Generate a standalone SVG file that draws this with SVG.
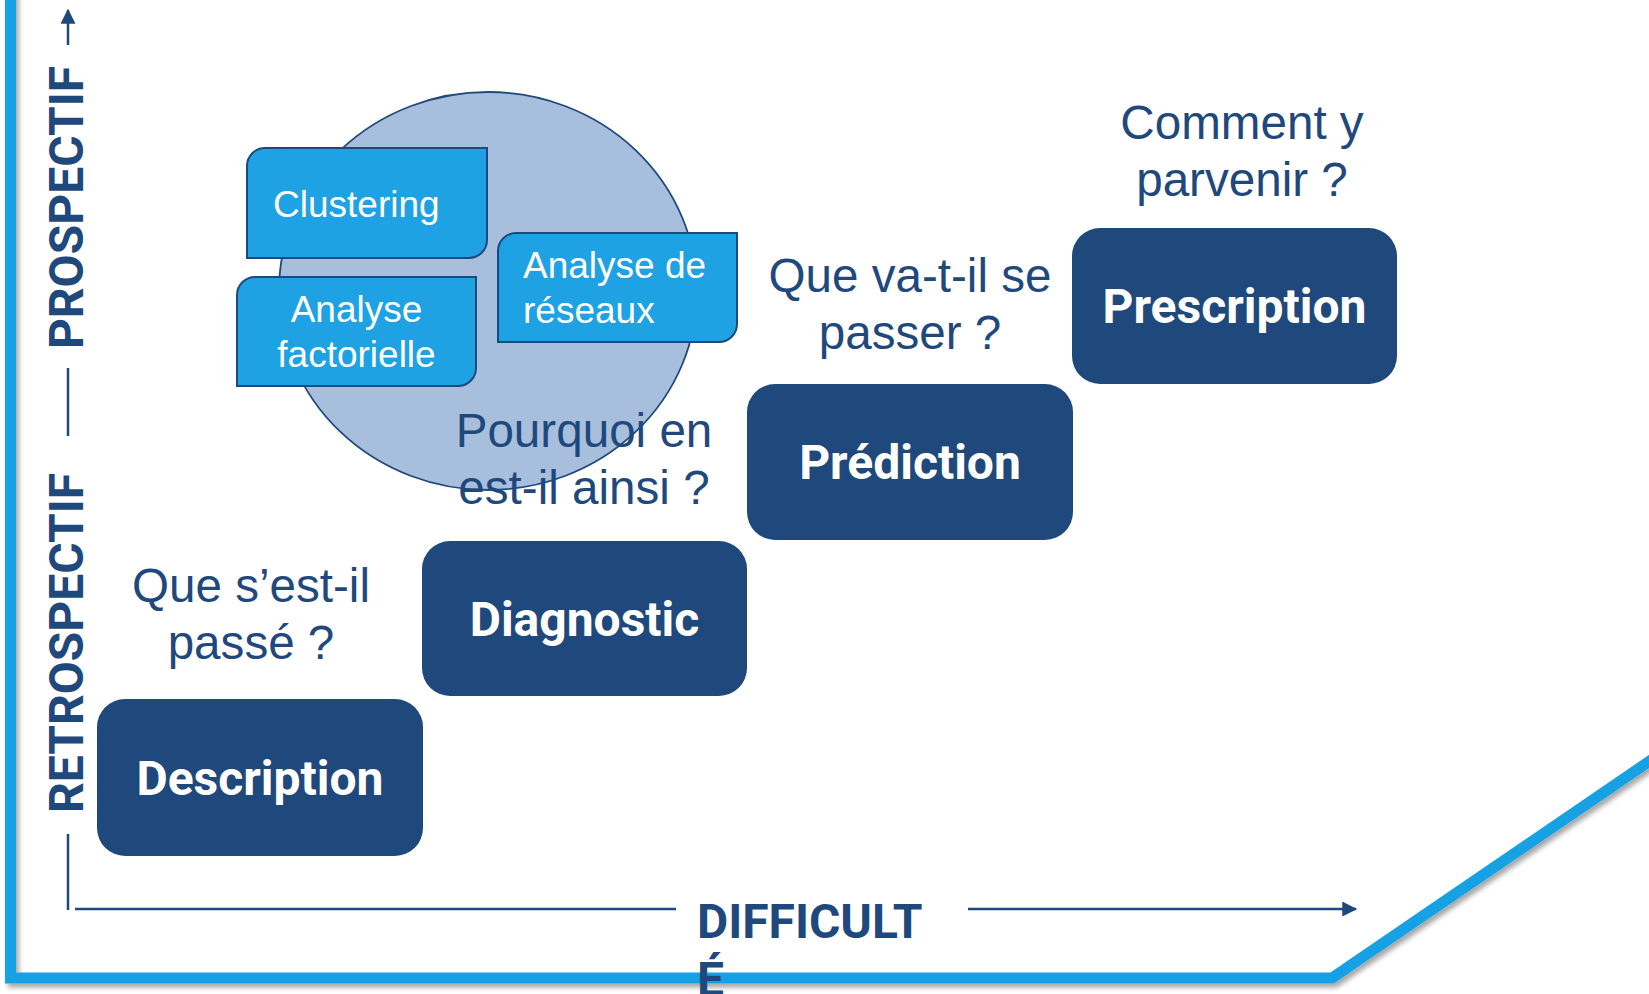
<svg xmlns="http://www.w3.org/2000/svg" width="1649" height="994" viewBox="0 0 1649 994">
  <style>
    .axis { stroke:#1f497d; stroke-width:2.5; fill:none; }
    .axisTxt { font-family:Roboto, "Liberation Sans", sans-serif; font-weight:700; font-size:48px; fill:#1f497d; }
    .q { font-family:"Liberation Sans", Arial, sans-serif; font-size:47.6px; fill:#1f497d; text-anchor:middle; }
    .step rect { fill:#1f497d; }
    .step text { font-family:Roboto, "Liberation Sans", sans-serif; font-weight:700; font-size:48px; fill:#ffffff; text-anchor:middle; }
    .tech path { fill:#1fa2e4; stroke:#1f497d; stroke-width:2; }
    .tech text { font-family:"Liberation Sans", Arial, sans-serif; font-size:37px; fill:#ffffff; }
  </style>
  <defs>
    <filter id="shadow" x="-5%" y="-5%" width="110%" height="110%">
      <feDropShadow dx="3" dy="4" stdDeviation="2.5" flood-color="#000000" flood-opacity="0.35"/>
    </filter>
    <marker id="arrow" markerWidth="6" markerHeight="6" refX="5.5" refY="3" orient="auto" markerUnits="strokeWidth">
      <path d="M0,0 L6,3 L0,6 Z" fill="#1f497d"/>
    </marker>
  </defs>
  <rect width="1649" height="994" fill="#ffffff"/>

  <!-- frame -->
  <g id="frame">
    <polyline points="10.5,-10 10.5,978 1332,978 1660,754" fill="none" stroke="#17a1e5" stroke-width="11" filter="url(#shadow)"/>
  </g>

  <!-- technique cluster -->
  <g id="cluster">
    <ellipse cx="488" cy="291" rx="209" ry="199" fill="#a7bfdc" stroke="#1f497d" stroke-width="1.8"/>
  </g>
  <g id="clustering" class="tech">
    <path d="M265 148 H487 V240 A18 18 0 0 1 469 258 H247 V166 A18 18 0 0 1 265 148 Z"/>
    <text x="273" y="217">Clustering</text>
  </g>
  <g id="analyse-factorielle" class="tech">
    <path d="M255 277 H476 V368 A18 18 0 0 1 458 386 H237 V295 A18 18 0 0 1 255 277 Z"/>
    <text x="356.5" y="322" text-anchor="middle">Analyse</text>
    <text x="356.5" y="367" text-anchor="middle">factorielle</text>
  </g>
  <g id="analyse-reseaux" class="tech">
    <path d="M516 233 H737 V324 A18 18 0 0 1 719 342 H498 V251 A18 18 0 0 1 516 233 Z"/>
    <text x="523" y="278">Analyse de</text>
    <text x="523" y="323">réseaux</text>
  </g>

  <!-- axes -->
  <g id="connectors">
    <line class="axis" x1="68" y1="910" x2="68" y2="834"/>
    <line class="axis" x1="68" y1="436" x2="68" y2="368"/>
    <line class="axis" x1="68" y1="45" x2="68" y2="10" marker-end="url(#arrow)"/>
    <line class="axis" x1="75" y1="909" x2="676" y2="909"/>
    <line class="axis" x1="968" y1="909" x2="1356" y2="909" marker-end="url(#arrow)"/>
  </g>
  <g id="axis-labels">
    <text class="axisTxt" text-anchor="middle" transform="translate(83,207.5) rotate(-90)">PROSPECTIF</text>
    <text class="axisTxt" text-anchor="middle" transform="translate(83,643) rotate(-90)">RETROSPECTIF</text>
    <text class="axisTxt" x="697" y="938">DIFFICULT</text>
    <text class="axisTxt" x="697" y="996">É</text>
  </g>

  <!-- steps -->
  <g id="description" class="step">
    <rect x="97" y="699" width="326" height="157" rx="28"/>
    <text x="260" y="795">Description</text>
  </g>
  <g id="diagnostic" class="step">
    <rect x="422" y="541" width="325" height="155" rx="28"/>
    <text x="584.5" y="636">Diagnostic</text>
  </g>
  <g id="prediction" class="step">
    <rect x="747" y="384" width="326" height="156" rx="28"/>
    <text x="910" y="479">Prédiction</text>
  </g>
  <g id="prescription" class="step">
    <rect x="1072" y="228" width="325" height="156" rx="28"/>
    <text x="1234.5" y="323">Prescription</text>
  </g>

  <!-- questions -->
  <g id="q-description">
    <text class="q" x="251" y="602">Que s’est-il</text>
    <text class="q" x="251" y="659">passé ?</text>
  </g>
  <g id="q-diagnostic">
    <text class="q" x="584" y="447">Pourquoi en</text>
    <text class="q" x="584" y="504">est-il ainsi ?</text>
  </g>
  <g id="q-prediction">
    <text class="q" x="910" y="292">Que va-t-il se</text>
    <text class="q" x="910" y="349">passer ?</text>
  </g>
  <g id="q-prescription">
    <text class="q" x="1242" y="139">Comment y</text>
    <text class="q" x="1242" y="196">parvenir ?</text>
  </g>
</svg>
